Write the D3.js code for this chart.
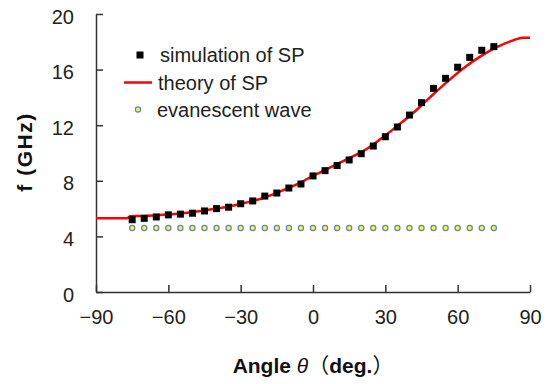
<!DOCTYPE html>
<html>
<head>
<meta charset="utf-8">
<script src="https://cdn.jsdelivr.net/npm/d3@7"></script>
<style>
  html, body { margin: 0; padding: 0; background: #fff; }
  svg { display: block; font-family: "Liberation Sans", Arial, "Noto Sans CJK JP", sans-serif; }
</style>
</head>
<body>
<svg id="chart" width="550" height="384"></svg>
<script>
// ---- data ----
const simAngles = [-75,-70,-65,-60,-55,-50,-45,-40,-35,-30,-25,-20,-15,-10,-5,0,5,10,15,20,25,30,35,40,45,50,55,60,65,70,75];
const simValues = [5.2,5.3,5.4,5.55,5.6,5.67,5.83,6.0,6.1,6.35,6.55,6.9,7.12,7.48,7.77,8.35,8.73,9.1,9.5,9.95,10.5,11.17,11.87,12.73,13.62,14.65,15.37,16.17,16.88,17.39,17.65];
const evaAngles = simAngles;
const evaValues = [4.6,4.6,4.6,4.6,4.6,4.6,4.6,4.6,4.6,4.6,4.6,4.6,4.6,4.6,4.6,4.6,4.6,4.6,4.6,4.6,4.6,4.6,4.6,4.6,4.6,4.6,4.6,4.6,4.6,4.6,4.6];
const theoryAngles = [-90,-77,-76,-70,-60,-55,-50,-42,-35,-28,-20,-14,-7,0,7,14,21,28,35,42,48.5,55.5,62.4,69.3,76,83,87,90];
const theoryValues = [5.3,5.3,5.45,5.47,5.58,5.65,5.74,5.95,6.15,6.42,6.8,7.2,7.72,8.35,8.95,9.55,10.15,11.0,11.95,12.95,14.0,15.1,16.1,16.93,17.6,18.1,18.3,18.3];
const xTicks = [-90,-60,-30,0,30,60,90];
const yTicks = [0,4,8,12,16,20];
const legendLabels = ["simulation of SP","theory of SP","evanescent wave"];

// ---- layout ----
const svg = d3.select("#chart");
const x = d3.scaleLinear().domain([-90, 90]).range([96, 530]);
const y = d3.scaleLinear().domain([0, 20]).range([292, 14]);
const axisColor = "#333";

// axes
const xAxis = svg.append("g").attr("transform", "translate(0,292)")
  .call(d3.axisBottom(x).tickValues(xTicks).tickSizeInner(-7).tickSizeOuter(0)
        .tickFormat(d => d < 0 ? "\u2212" + Math.abs(d) : d).tickPadding(18));
const yAxis = svg.append("g").attr("transform", "translate(96,0)")
  .call(d3.axisLeft(y).tickValues(yTicks).tickSizeInner(-7).tickSizeOuter(0).tickPadding(22));
[xAxis, yAxis].forEach(g => {
  g.select(".domain").attr("stroke", axisColor).attr("stroke-width", 1.5);
  g.selectAll(".tick line").attr("stroke", axisColor).attr("stroke-width", 1.5);
  g.selectAll(".tick text").attr("fill", "#222").attr("font-size", 20)
    .attr("font-family", "'Liberation Sans', Arial, sans-serif");
});
yAxis.selectAll(".tick text").attr("dy", "0.45em");

// theory line
const line = d3.line().x((d, i) => x(theoryAngles[i])).y(d => y(d)).curve(d3.curveMonotoneX);
svg.append("path").datum(theoryValues).attr("d", line)
  .attr("fill", "none").attr("stroke", "#ff0000").attr("stroke-width", 2.5);

// evanescent wave markers
svg.append("g").selectAll("circle").data(evaValues).join("circle")
  .attr("cx", (d, i) => x(evaAngles[i])).attr("cy", d => y(d)).attr("r", 2.6)
  .attr("fill", "#ffff00").attr("stroke", "#5a7cf0").attr("stroke-width", 1.2);

// simulation markers
const sq = 7;
svg.append("g").selectAll("rect").data(simValues).join("rect")
  .attr("x", (d, i) => x(simAngles[i]) - sq / 2).attr("y", d => y(d) - sq / 2)
  .attr("width", sq).attr("height", sq).attr("fill", "#000");

// legend
const leg = svg.append("g");
const rowY = [55, 82.5, 109.5];
leg.append("rect").attr("x", 140 - 3.5).attr("y", rowY[0] - 3.5).attr("width", 7).attr("height", 7).attr("fill", "#000");
leg.append("line").attr("x1", 124).attr("x2", 152).attr("y1", rowY[1]).attr("y2", rowY[1])
  .attr("stroke", "#ff0000").attr("stroke-width", 2.5);
leg.append("circle").attr("cx", 138).attr("cy", rowY[2]).attr("r", 2.6)
  .attr("fill", "#ffff00").attr("stroke", "#5a7cf0").attr("stroke-width", 1.2);
const textX = [160, 158, 157];
leg.selectAll("text").data(legendLabels).join("text")
  .attr("x", (d, i) => textX[i]).attr("y", (d, i) => rowY[i]).attr("dy", "0.35em")
  .attr("font-size", 20).attr("fill", "#222").text(d => d);

// axis titles
const xt = svg.append("text").attr("x", 313).attr("y", 373).attr("text-anchor", "middle")
  .attr("font-size", 21).attr("font-weight", "bold").attr("fill", "#111");
xt.append("tspan").text("Angle ");
xt.append("tspan").attr("font-style", "italic").attr("font-weight", "normal").text("\u03B8");
xt.append("tspan").attr("font-family", "'Noto Sans CJK JP', sans-serif").attr("font-weight", "normal").text("\uFF08");
xt.append("tspan").text("deg.");
xt.append("tspan").attr("font-family", "'Noto Sans CJK JP', sans-serif").attr("font-weight", "normal").text("\uFF09");

svg.append("text").attr("transform", "translate(32,152) rotate(-90)").attr("text-anchor", "middle")
  .attr("font-size", 21).attr("font-weight", "bold").attr("letter-spacing", 1.5).attr("fill", "#111")
  .text("f (GHz)");
</script>
</body>
</html>
